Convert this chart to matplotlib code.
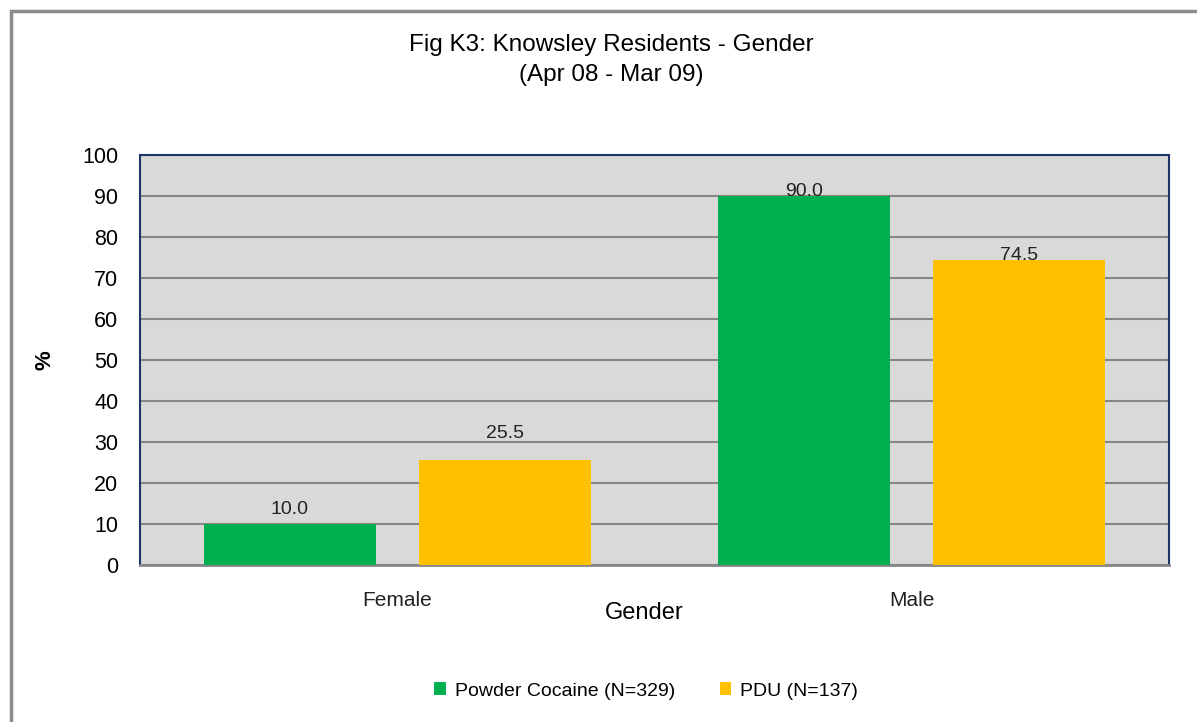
import matplotlib
matplotlib.use("Agg")
import matplotlib.pyplot as plt
import numpy as np
from matplotlib.patches import Rectangle

categories = ["Female", "Male"]
series_names = ["Powder Cocaine (N=329)", "PDU (N=137)"]
cocaine = [10.0, 90.0]
pdu = [25.5, 74.5]
yticks = [0, 10, 20, 30, 40, 50, 60, 70, 80, 90, 100]

# style: data-label baseline offsets above bar tops (pixels), as placed in the original
cocaine_label_off = [10, 0]
pdu_label_off = [22, 0]

plt.rcParams['font.family'] = ['Liberation Sans', 'DejaVu Sans']

fig = plt.figure(figsize=(11.97, 7.22), dpi=100)
W, H = 1197, 722
ax = fig.add_axes([140 / W, 1 - 565 / H, (1169 - 140) / W, (565 - 155) / H])
ax.set_facecolor('#D9D9D9')

# outer chart border
fig.patches.append(Rectangle((11 / W, -0.1), 1.2, 1 - 11 / H + 0.1, transform=fig.transFigure,
                             fill=False, edgecolor='#8C8C8C', linewidth=2.5, zorder=0))

x = np.arange(len(categories))
bw = 0.334
off = 0.209
b1 = ax.bar(x - off, cocaine, bw, color='#00B050', label=series_names[0], zorder=3)
b2 = ax.bar(x + off, pdu, bw, color='#FFC000', label=series_names[1], zorder=3)

for bars, vals, offs in ((b1, cocaine, cocaine_label_off), (b2, pdu, pdu_label_off)):
    for rect, v, o in zip(bars, vals, offs):
        ax.annotate(f"{v:.1f}", (rect.get_x() + rect.get_width() / 2, v),
                    xytext=(0, o * 0.72), textcoords='offset points', ha='center', va='baseline',
                    fontsize=14, color='#222222', zorder=4)

ax.set_xlim(-0.5, 1.5)
ax.set_ylim(0, 100)
ax.set_yticks(yticks)
ax.set_yticklabels([str(t) for t in yticks], fontsize=15.5)
ax.set_xticks(x)
ax.set_xticklabels(categories, fontsize=15, color='#222222')
ax.tick_params(axis='both', length=0)
ax.tick_params(axis='y', pad=15.5)
ax.tick_params(axis='x', pad=19)
ax.yaxis.grid(True, color='#868686', linewidth=1.5, zorder=1)
ax.set_axisbelow(True)

for s in ('top', 'left', 'right'):
    ax.spines[s].set_color('#1F3468')
    ax.spines[s].set_linewidth(1.5)
ax.spines['bottom'].set_color('#868686')
ax.spines['bottom'].set_linewidth(2)

ax.set_xlabel("Gender", fontsize=17, va='center')
ax.xaxis.set_label_coords((644.5 - 140) / 1029, (565 - 613) / 410)
ax.set_ylabel("%", fontsize=16, va='center', fontweight='bold')
ax.yaxis.set_label_coords((45 - 140) / 1029, (565 - 360) / 410)

fig.text(611 / W, 1 - 45 / H, "Fig K3: Knowsley Residents - Gender", ha='center', va='center', fontsize=17.5)
fig.text(611 / W, 1 - 75 / H, "(Apr 08 - Mar 09)", ha='center', va='center', fontsize=17.5)

fig.legend(handles=[b1, b2], labels=series_names, loc='center', bbox_to_anchor=(646 / W, 1 - 691 / H),
           ncol=2, frameon=False, fontsize=14, handlelength=0.6, handleheight=0.6,
           columnspacing=2.3, handletextpad=0.45)

fig.savefig("out.png", dpi=100)
